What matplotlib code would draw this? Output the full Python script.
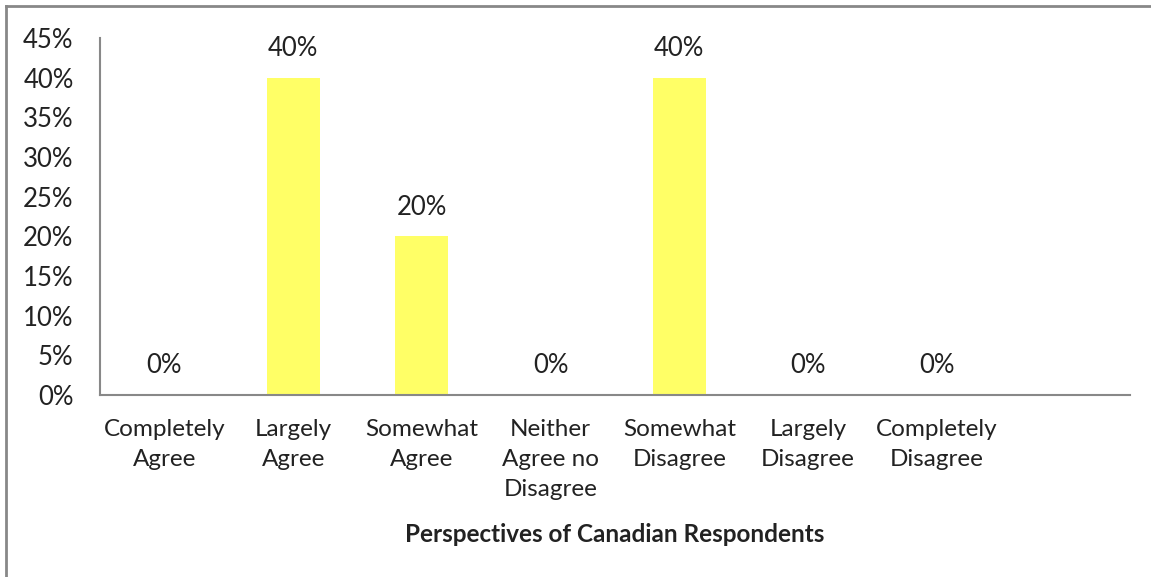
import matplotlib.pyplot as plt
from matplotlib.lines import Line2D

# Data
categories = ["Completely\nAgree", "Largely\nAgree", "Somewhat\nAgree",
              "Neither\nAgree no\nDisagree", "Somewhat\nDisagree",
              "Largely\nDisagree", "Completely\nDisagree"]
shares = [0.0, 0.40, 0.20, 0.0, 0.40, 0.0, 0.0]

plt.rcParams['font.family'] = ['Lato', 'DejaVu Sans']

fig = plt.figure(figsize=(11.51, 5.77), dpi=100)
ax = fig.add_axes([100 / 1151, 1 - 395 / 577, 1030 / 1151, 357 / 577])

x = list(range(len(categories)))
ax.bar(x, shares, width=0.41, color='#FFFF66')

for xi, v in zip(x, shares):
    ax.annotate(f"{v:.0%}", (xi, v), xytext=(0, 21), textcoords='offset points',
                ha='center', va='center', fontsize=18.5, color='#222222')

ax.set_xlim(-0.5, 7.5)
ax.set_ylim(0, 0.45)
ax.set_yticks([i * 0.05 for i in range(10)])
ax.set_yticklabels([f"{i * 5}%" for i in range(10)], fontsize=18.5, color='#222222')
ax.set_xticks(x)
ax.set_xticklabels(categories, fontsize=17.5, color='#222222', linespacing=1.55)
ax.tick_params(length=0)
ax.tick_params(axis='x', pad=17)
ax.tick_params(axis='y', pad=19)

for s in ['top', 'right']:
    ax.spines[s].set_visible(False)
for s in ['left', 'bottom']:
    ax.spines[s].set_color('#888888')
    ax.spines[s].set_linewidth(1.5)

ax.set_xlabel("Perspectives of Canadian Respondents", fontsize=17.5,
              fontweight='bold', color='#222222', va='center')
ax.xaxis.set_label_coords(0.5, (395 - 535) / 357)

# outer frame (left and top edges)
fig.add_artist(Line2D([6 / 1151, 6 / 1151], [0, 1 - 6 / 577],
                      transform=fig.transFigure, color='#888888', lw=2))
fig.add_artist(Line2D([6 / 1151, 1], [1 - 6 / 577, 1 - 6 / 577],
                      transform=fig.transFigure, color='#888888', lw=2))

fig.savefig("out.png", dpi=100)
